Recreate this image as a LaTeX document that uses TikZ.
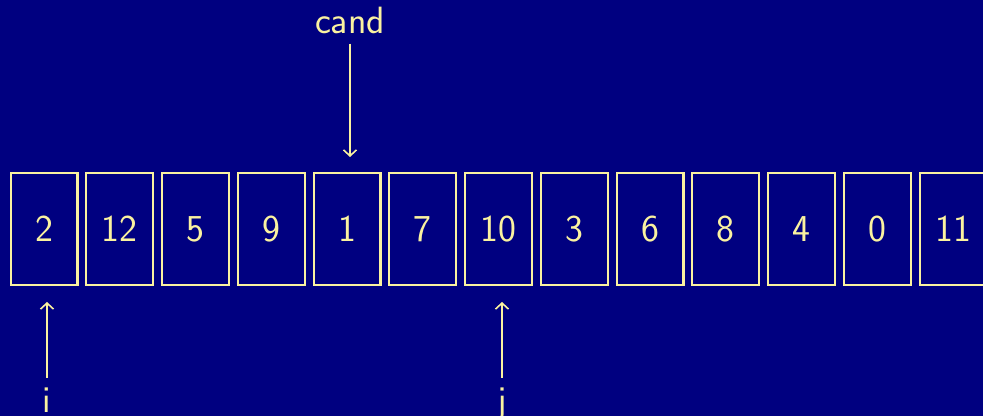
\documentclass[tikz,border=0pt]{standalone}
\usepackage{tikz}
\usetikzlibrary{arrows.meta,positioning,calc}
\usepackage{xcolor}
\definecolor{slNavy}{HTML}{000080}
\definecolor{slChalk}{HTML}{FAF2A0}
\tikzset{
  cell/.style={draw=slChalk, line width=1.1pt, minimum width=33.4pt, minimum height=55.9pt, inner sep=0pt, text=slChalk, font=\sffamily\fontsize{19}{23}\selectfont},
  tag/.style={inner sep=0pt, text=slChalk, font=\sffamily\fontsize{19}{23}\selectfont},
  ptr/.style={-{Straight Barb[length=3pt,width=6.5pt]}, line width=0.8pt, draw=slChalk},
}
\begin{document}
\begin{tikzpicture}[x=1pt,y=1pt]
            % background
            \fill[slNavy] (0,0) rectangle (491.5,208);
            \useasboundingbox (0,0) rectangle (491.5,208);
            % array cells
            \foreach \v [count=\k from 0] in {2,12,5,9,1,7,10,3,6,8,4,0,11} {
                \node[cell] (b\k) at (22+37.875*\k,93.5) {\v};
            }
            % pointers
            \node[tag, anchor=base] (cand) at (175,191) {cand};
            \node[tag, anchor=base] (i) at (23.5,1.6) {i};
            \node[tag, anchor=base] (j) at (251,1.6) {j};
            \draw[ptr, shorten <=4.5pt, shorten >=7.5pt] (cand.south) -- (cand.south |- b4.north);
            \draw[ptr, shorten <=5pt, shorten >=8pt] (i.north) -- (i.north |- b0.south);
            \draw[ptr, shorten <=5pt, shorten >=8pt] (j.north) -- (j.north |- b6.south);
        \end{tikzpicture}
\end{document}
